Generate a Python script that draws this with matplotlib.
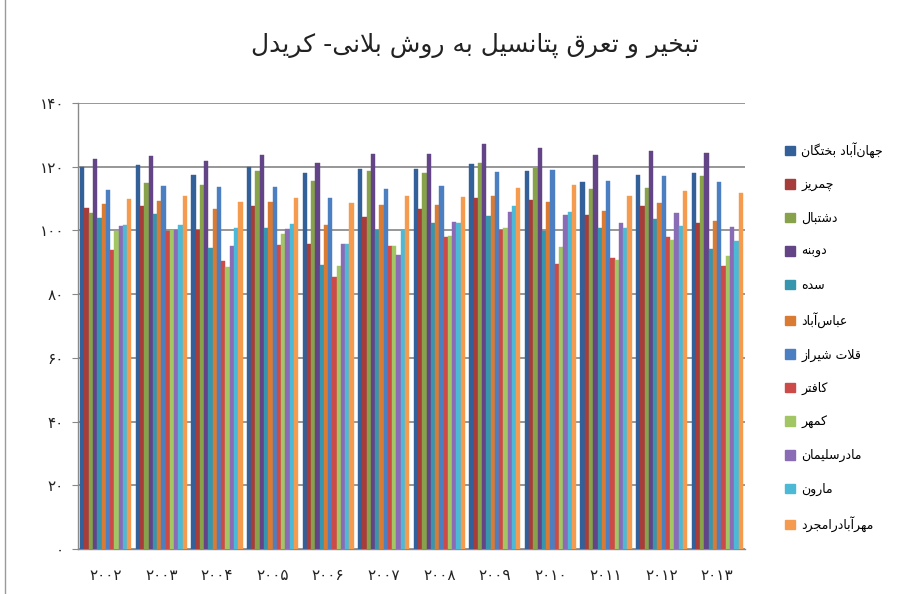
import matplotlib
matplotlib.use("Agg")
import matplotlib.pyplot as plt
import numpy as np
from matplotlib.lines import Line2D
from matplotlib.patches import Patch

# ---------------- data ----------------
years = ["۲۰۰۲", "۲۰۰۳", "۲۰۰۴", "۲۰۰۵", "۲۰۰۶", "۲۰۰۷",
         "۲۰۰۸", "۲۰۰۹", "۲۰۱۰", "۲۰۱۱", "۲۰۱۲", "۲۰۱۳"]
stations = ["جهان‌آباد بختگان", "چمریز", "دشتبال", "دوبنه", "سده", "عباس‌آباد",
            "قلات شیراز", "کافتر", "کمهر", "مادرسلیمان", "مارون", "مهرآبادرامجرد"]
jahanabad = [120.0, 120.5, 117.5, 120.0, 118.1, 119.4, 119.2, 120.8, 118.6, 115.3, 117.4, 118.0]
chamriz   = [107.0, 107.7, 100.2, 107.8, 95.8, 104.1, 106.7, 110.1, 109.6, 104.7, 107.8, 102.3]
dashtbal  = [105.4, 115.0, 114.3, 118.7, 115.6, 118.7, 118.0, 121.3, 119.5, 112.9, 113.3, 117.1]
dobaneh   = [122.3, 123.3, 121.9, 123.6, 121.2, 124.0, 124.0, 127.2, 125.8, 123.7, 124.8, 124.4]
sedeh     = [103.9, 105.2, 94.6, 100.9, 89.2, 100.2, 102.3, 104.6, 99.7, 100.7, 103.6, 94.1]
abbasabad = [108.3, 109.3, 106.8, 108.9, 101.6, 107.9, 108.0, 110.8, 108.8, 106.2, 108.6, 103.0]
ghalat    = [112.7, 114.1, 113.7, 113.5, 110.3, 113.0, 113.8, 118.2, 118.9, 115.5, 117.2, 115.1]
kaftar    = [94.0, 99.7, 90.5, 95.5, 85.3, 95.2, 97.8, 100.0, 89.6, 91.4, 97.9, 88.9]
kamhar    = [99.9, 100.0, 88.5, 99.0, 88.7, 95.2, 98.3, 100.8, 94.7, 90.8, 97.1, 92.0]
madar     = [101.5, 100.0, 95.0, 100.4, 95.8, 92.4, 102.6, 105.8, 104.8, 102.3, 105.4, 101.1]
marun     = [101.6, 101.8, 100.7, 102.1, 95.8, 100.1, 102.3, 107.8, 105.9, 100.7, 101.5, 96.7]
mehrabad  = [109.8, 110.8, 108.9, 110.1, 108.5, 110.9, 110.4, 113.2, 114.3, 110.8, 112.5, 111.9]
series = [jahanabad, chamriz, dashtbal, dobaneh, sedeh, abbasabad,
          ghalat, kaftar, kamhar, madar, marun, mehrabad]
yticks = [0, 20, 40, 60, 80, 100, 120, 140]
ytick_labels = ["۰", "۲۰", "۴۰", "۶۰", "۸۰", "۱۰۰", "۱۲۰", "۱۴۰"]
title = "تبخیر و تعرق پتانسیل به روش بلانی- کریدل"

colors = ["#34609A", "#A63D3A", "#87A24B", "#634486", "#3795AD", "#DA7B33",
          "#4C7FC2", "#CC4B48", "#A2C663", "#8A6BB5", "#4CBAD6", "#F59B4F"]

# ---------------- simple Persian shaping ----------------
FORMS = {
    'ا': (0xFE8D, 0xFE8E, None, None), 'آ': (0xFE81, 0xFE82, None, None),
    'ب': (0xFE8F, 0xFE90, 0xFE91, 0xFE92), 'پ': (0xFB56, 0xFB57, 0xFB58, 0xFB59),
    'ت': (0xFE95, 0xFE96, 0xFE97, 0xFE98), 'ث': (0xFE99, 0xFE9A, 0xFE9B, 0xFE9C),
    'ج': (0xFE9D, 0xFE9E, 0xFE9F, 0xFEA0), 'چ': (0xFB7A, 0xFB7B, 0xFB7C, 0xFB7D),
    'ح': (0xFEA1, 0xFEA2, 0xFEA3, 0xFEA4), 'خ': (0xFEA5, 0xFEA6, 0xFEA7, 0xFEA8),
    'د': (0xFEA9, 0xFEAA, None, None), 'ذ': (0xFEAB, 0xFEAC, None, None),
    'ر': (0xFEAD, 0xFEAE, None, None), 'ز': (0xFEAF, 0xFEB0, None, None),
    'ژ': (0xFB8A, 0xFB8B, None, None),
    'س': (0xFEB1, 0xFEB2, 0xFEB3, 0xFEB4), 'ش': (0xFEB5, 0xFEB6, 0xFEB7, 0xFEB8),
    'ص': (0xFEB9, 0xFEBA, 0xFEBB, 0xFEBC), 'ض': (0xFEBD, 0xFEBE, 0xFEBF, 0xFEC0),
    'ط': (0xFEC1, 0xFEC2, 0xFEC3, 0xFEC4), 'ظ': (0xFEC5, 0xFEC6, 0xFEC7, 0xFEC8),
    'ع': (0xFEC9, 0xFECA, 0xFECB, 0xFECC), 'غ': (0xFECD, 0xFECE, 0xFECF, 0xFED0),
    'ف': (0xFED1, 0xFED2, 0xFED3, 0xFED4), 'ق': (0xFED5, 0xFED6, 0xFED7, 0xFED8),
    'ک': (0xFB8E, 0xFB8F, 0xFB90, 0xFB91), 'گ': (0xFB92, 0xFB93, 0xFB94, 0xFB95),
    'ل': (0xFEDD, 0xFEDE, 0xFEDF, 0xFEE0), 'م': (0xFEE1, 0xFEE2, 0xFEE3, 0xFEE4),
    'ن': (0xFEE5, 0xFEE6, 0xFEE7, 0xFEE8), 'ه': (0xFEE9, 0xFEEA, 0xFEEB, 0xFEEC),
    'و': (0xFEED, 0xFEEE, None, None), 'ی': (0xFBFC, 0xFBFD, 0xFBFE, 0xFBFF),
}
DUAL = {c for c, f in FORMS.items() if f[2] is not None}


def shape(text):
    out = []
    i = 0
    n = len(text)
    while i < n:
        c = text[i]
        prev = text[i - 1] if i > 0 else None
        jp = prev in DUAL
        if c == 'ل' and i + 1 < n and text[i + 1] in 'اآ':
            a = text[i + 1]
            if a == 'ا':
                out.append(chr(0xFEFC if jp else 0xFEFB))
            else:
                out.append(chr(0xFEF6 if jp else 0xFEF5))
            i += 2
            continue
        if c in FORMS:
            iso, fin, ini, med = FORMS[c]
            nxt = text[i + 1] if i + 1 < n else None
            jn = (c in DUAL) and (nxt in FORMS)
            if jp and jn:
                g = med
            elif jp:
                g = fin
            elif jn:
                g = ini
            else:
                g = iso
            out.append(chr(g))
        elif c == '\u200c':
            pass
        else:
            out.append(c)
        i += 1
    return ''.join(reversed(out))


# ---------------- figure ----------------
plt.rcParams['font.family'] = ['DejaVu Sans']
fig = plt.figure(figsize=(9.11, 5.94), dpi=100)
ax = fig.add_axes([78 / 911, 45 / 594, (745 - 78) / 911, (549 - 103) / 594])

x = np.arange(len(years))
ns = len(series)
total = 0.92
bw = total / ns
for k, vals in enumerate(series):
    off = -total / 2 + bw * (k + 0.5)
    ax.bar(x + off, vals, width=bw, color=colors[k], edgecolor=colors[k],
           linewidth=0.3, zorder=3, label=shape(stations[k]))

ax.set_xlim(-0.5, len(years) - 0.5)
ax.set_ylim(0, 140)
ax.set_yticks(yticks)
ax.set_yticklabels(ytick_labels, fontsize=11, color="#222222")
ax.set_xticks(x)
ax.set_xticklabels(years, fontsize=11, color="#222222")
ax.tick_params(axis='y', length=4, pad=6, color="#888888")
ax.tick_params(axis='x', length=0, pad=14)
ax.yaxis.grid(True, color="#858585", linewidth=1.2, zorder=0)
for s in ['right', 'top']:
    ax.spines[s].set_visible(False)
ax.spines['left'].set_color("#8a8a8a")
ax.spines['bottom'].set_color("#8a8a8a")
ax.spines['left'].set_linewidth(1.0)
ax.spines['bottom'].set_linewidth(1.0)

fig.text(475 / 911, 1 - 45 / 594, shape(title), ha='center', va='center',
         fontsize=18, color="#222222")

handles = [Patch(facecolor=colors[k], edgecolor=colors[k]) for k in range(ns)]
labels = [shape(s) for s in stations]
leg = fig.legend(handles, labels, loc='upper left',
                 bbox_to_anchor=(780 / 911, 1 - 137 / 594), frameon=False,
                 fontsize=9, handlelength=0.8, handleheight=0.8,
                 handletextpad=0.5, labelspacing=1.63, borderaxespad=0)

fig.add_artist(Line2D([5 / 911, 5 / 911], [0, 1], color="#9a9a9a", linewidth=1.0))

fig.savefig("out.png", dpi=100)
